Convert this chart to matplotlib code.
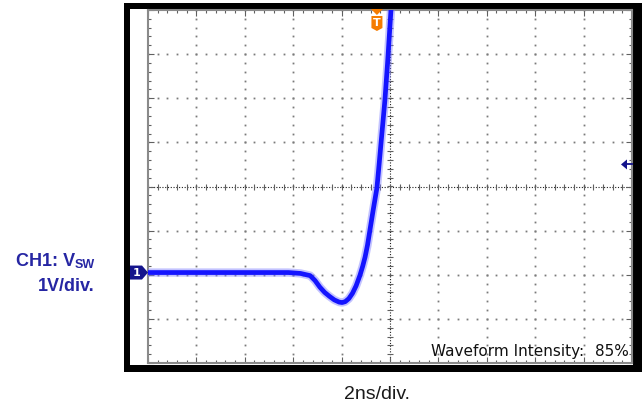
import matplotlib
matplotlib.use("Agg")

import matplotlib.pyplot as plt  # noqa: E402
import numpy as np  # noqa: E402
from matplotlib.patches import Polygon, Rectangle  # noqa: E402
from matplotlib.ticker import MultipleLocator  # noqa: E402

# CH1 (V_SW) trace
time_ns = [-10.0, -4.2, -3.7, -3.3, -3.1, -2.9, -2.7, -2.5, -2.3, -2.1,
           -1.98, -1.85, -1.7, -1.55, -1.4, -1.24, -1.13, -1.03, -0.93,
           -0.83, -0.7, -0.54, -0.45, -0.37, -0.29, -0.21, -0.1, 0.04, 0.3]
volts = [0.0, 0.0, -0.02, -0.07, -0.18, -0.33, -0.45, -0.54, -0.62, -0.67,
         -0.68, -0.66, -0.59, -0.47, -0.30, -0.06, 0.14, 0.35, 0.62,
         0.96, 1.40, 1.92, 2.45, 2.94, 3.42, 3.91, 4.75, 5.95, 8.0]

ns_per_div = 2.0
v_per_div = 1.0
ch1_offset_div = -1.95
trigger_time_ns = -0.54
trigger_level_v = 2.45
intensity_pct = 85

W, H = 642, 407
BLUE_TXT = "#2626a3"
NAVY = "#14148c"
ORANGE = "#f57c00"


def fig_xy(px, py):
    return px / W, py / H


fig = plt.figure(figsize=(W / 100, H / 100), dpi=100)
fig.patch.set_facecolor("white")

# scope bezel
fig.patches.append(Rectangle(fig_xy(124, 35), 518 / W, 369 / H,
                             transform=fig.transFigure, facecolor="black",
                             edgecolor="none", zorder=-2))
fig.patches.append(Rectangle(fig_xy(130, 42), 503 / W, 356 / H,
                             transform=fig.transFigure, facecolor="white",
                             edgecolor="none", zorder=-1))

ax = fig.add_axes([148 / W, 44 / H, 484 / W, 353 / H])
ax.set_xlim(-5, 5)
ax.set_ylim(-4, 4)
ax.set_facecolor("white")

# graticule dots on major divisions
sub_x = np.arange(-5, 5.01, 0.2)
sub_y = np.arange(-4, 4.01, 0.2)
for gy in range(-3, 4):
    if gy != 0:
        ax.plot(sub_x, np.full_like(sub_x, gy), ls="none", marker="s",
                ms=1.3, mew=0, color="#7a7a7a", zorder=1)
for gx in range(-4, 5):
    if gx != 0:
        ax.plot(np.full_like(sub_y, gx), sub_y, ls="none", marker="s",
                ms=1.3, mew=0, color="#7a7a7a", zorder=1)

# centre axes with sub-division ticks
ax.axhline(0, color="#202020", lw=0.8, ls=(0, (1, 1.5)), zorder=1)
ax.axvline(0, color="#202020", lw=0.8, ls=(0, (1, 1.5)), zorder=1)
ax.plot(sub_x, np.zeros_like(sub_x), ls="none", marker="|", ms=5, mew=0.8,
        color="#606060", zorder=1)
ax.plot(np.zeros_like(sub_y), sub_y, ls="none", marker="_", ms=5, mew=0.8,
        color="#606060", zorder=1)

# border ticks
ax.xaxis.set_major_locator(MultipleLocator(1))
ax.xaxis.set_minor_locator(MultipleLocator(0.2))
ax.yaxis.set_major_locator(MultipleLocator(1))
ax.yaxis.set_minor_locator(MultipleLocator(0.2))
ax.tick_params(which="both", direction="in", top=True, right=True,
               labelbottom=False, labelleft=False, color="#606060")
ax.tick_params(which="major", length=4, width=0.8)
ax.tick_params(which="minor", length=2.5, width=0.8)
for sp in ax.spines.values():
    sp.set_color("#8a8a8a")
    sp.set_linewidth(1.5)

# waveform
x_div = np.array(time_ns) / ns_per_div
y_div = np.array(volts) / v_per_div + ch1_offset_div
ax.plot(x_div, y_div, color="#7b7bff", lw=6.0, alpha=0.45,
        solid_capstyle="round", solid_joinstyle="round", zorder=3)
ax.plot(x_div, y_div, color="#1414ff", lw=3.4,
        solid_capstyle="round", solid_joinstyle="round", zorder=4)

# channel 1 ground marker
tx, ty = ax.transData.transform((-5, ch1_offset_div))
shape = [(-18, -7), (-6, -7), (0, 0), (-6, 7), (-18, 7)]
fig.patches.append(Polygon([fig_xy(tx + dx, ty + dy) for dx, dy in shape],
                           closed=True, transform=fig.transFigure,
                           facecolor=NAVY, edgecolor="none", zorder=5))
fig.text(*fig_xy(tx - 11, ty), "1", color="white", fontsize=8,
         fontweight="bold", ha="center", va="center", zorder=6)

# trigger position marker
gx, gy = ax.transData.transform((trigger_time_ns / ns_per_div, 4))
tri = [(-6, 1), (6, 1), (0, -5)]
shield = [(-5.5, -6), (5.5, -6), (5.5, -18), (0, -21), (-5.5, -18)]
for shp in (tri, shield):
    fig.patches.append(Polygon([fig_xy(gx + dx, gy + dy) for dx, dy in shp],
                               closed=True, transform=fig.transFigure,
                               facecolor=ORANGE, edgecolor="none", zorder=5))
fig.text(*fig_xy(gx, gy - 12.5), "T", color="white", fontsize=8,
         fontweight="bold", ha="center", va="center", zorder=6)

# trigger level marker
lx, ly = ax.transData.transform((5, trigger_level_v / v_per_div + ch1_offset_div))
fig.patches.append(Polygon([fig_xy(lx - 11, ly), fig_xy(lx - 5, ly + 5),
                            fig_xy(lx - 5, ly - 5)], closed=True,
                           transform=fig.transFigure, facecolor=NAVY,
                           edgecolor="none", zorder=5))
fig.lines.append(plt.Line2D([(lx - 6) / W, lx / W], [ly / H, ly / H],
                            transform=fig.transFigure, color=NAVY, lw=1.3,
                            zorder=5))

# readout
ax.text(*fig_xy(629, 51), f"{intensity_pct}%", transform=fig.transFigure,
        ha="right", va="baseline", fontsize=11, family="DejaVu Sans",
        color="#111111", zorder=6)
ax.text(*fig_xy(584, 51), "Waveform Intensity:", transform=fig.transFigure,
        ha="right", va="baseline", fontsize=11, family="DejaVu Sans",
        color="#111111", zorder=6)

# labels outside the screen
renderer = fig.canvas.get_renderer()
sub = fig.text(*fig_xy(95, 139), "SW", ha="right", va="baseline",
               fontsize=9, fontweight="bold", family="Liberation Sans",
               color=BLUE_TXT)
sw_w = sub.get_window_extent(renderer).width
fig.text(*fig_xy(95 - sw_w, 141), "CH1: V", ha="right", va="baseline",
         fontsize=13, fontweight="bold", family="Liberation Sans",
         color=BLUE_TXT)
fig.text(*fig_xy(95, 116), "1V/div.", ha="right", va="baseline",
         fontsize=13, fontweight="bold", family="Liberation Sans",
         color=BLUE_TXT)
fig.text(*fig_xy(377, 8), "2ns/div.", ha="center", va="baseline",
         fontsize=14, family="Liberation Sans", color="#1a1a1a")

fig.savefig("out.png", dpi=100)
